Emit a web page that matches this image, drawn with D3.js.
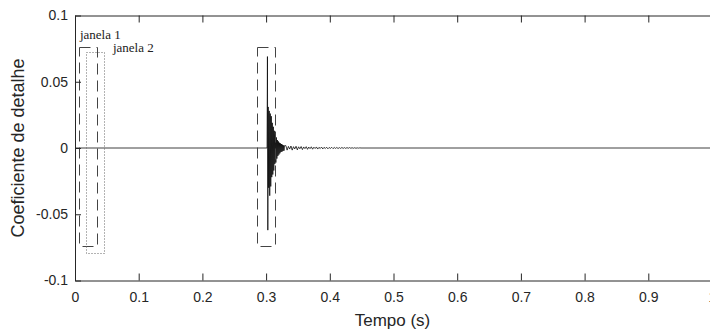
<!DOCTYPE html>
<html lang="en">
<head>
  <meta charset="UTF-8">
  <title>Coeficiente de detalhe</title>
  <script src="https://d3js.org/d3.v7.min.js"></script>
  <style>
      body { margin: 0; background: #fff; }
      .axis text { font-family: "Liberation Sans", Arial, sans-serif; font-size: 14px; fill: #262626; }
      .axis path, .axis line { stroke: #262626; }
      .title { font-family: "Liberation Sans", Arial, sans-serif; font-size: 17px; fill: #262626; }
      .note { font-family: "Liberation Serif", "Times New Roman", serif; font-size: 13px; fill: #222; }
  </style>
</head>
<body>
<svg width="710" height="331"></svg>
<script>
  // axis ticks
  const xTicks = [0, 0.1, 0.2, 0.3, 0.4, 0.5, 0.6, 0.7, 0.8, 0.9, 1];
  const yTicks = [-0.1, -0.05, 0, 0.05, 0.1];

  // signal: quiet part, then the fault spike, then a decaying burst and tail
  const leadT = [0, 0.3015];
  const leadV = [0, 0];
  const spikeT = [0.3021, 0.3027];
  const spikeV = [0.069, -0.062];

  const burstStart = 0.3033, burstDt = 0.0008;
  const burstV = [0.031, -0.030, 0.028, -0.036, 0.026, -0.029, 0.024,
                  -0.022, 0.019, -0.020, 0.016, -0.017,
                  0.013, -0.012, 0.010, -0.011, 0.008,
                  -0.008, 0.006, -0.006, 0.005, -0.005, 0.004, -0.004,
                  0.0035, -0.003, 0.003, -0.0028, 0.0025, -0.0022, 0.002, -0.002, 0.0018];

  const tailStart = 0.331, tailDt = 0.002;
  const tailV = [0.0018, -0.0016, 0.0012, -0.0008, 0.0015, -0.0016, 0.0010, -0.0007, 0.0013, -0.0014,
                 0.0009, -0.0006, 0.0011, -0.0012, 0.0008, -0.0005, 0.0010, -0.0010, 0.0007, -0.0005,
                 0.0009, -0.0009, 0.0006, -0.0004, 0.0008, -0.0008, 0.0005, -0.0004, 0.0007, -0.0007,
                 0.0005, -0.0004, 0.0006, -0.0006, 0.0004, -0.0003, 0.0005, -0.0005, 0.0004, -0.0003,
                 0.0004, -0.0004, 0.0003, -0.0003, 0.0004, -0.0003, 0.0003, -0.0003, 0.0003, -0.0002,
                 0.0003, -0.0002, 0.0002, -0.0002, 0.0002, -0.0002, 0.0001, -0.0001, 0.0001, 0];
  const endT = [1];
  const endV = [0];

  // analysis windows
  const winStart  = [0.0063, 0.0168, 0.285];
  const winEnd    = [0.035, 0.0444, 0.314];
  const winTop    = [0.0762, 0.0725, 0.0762];
  const winBottom = [-0.074, -0.0795, -0.074];
  const winDash   = ["dashed", "dotted", "dashed"];

  const noteText = ["janela 1", "janela 2"];
  const noteT = [0.0078, 0.0595];
  const noteV = [0.0823, 0.0728];

  const svg = d3.select("svg");
  const margin = {left: 75, top: 15.5, right: -2, bottom: 50.5};
  const W = 710, H = 331;

  const x = d3.scaleLinear().domain([0, 1]).range([margin.left, W - margin.right]);
  const y = d3.scaleLinear().domain([-0.1, 0.1]).range([H - margin.bottom, margin.top]);

  const signal = [];
  leadT.forEach((t, i) => signal.push([t, leadV[i]]));
  spikeT.forEach((t, i) => signal.push([t, spikeV[i]]));
  burstV.forEach((v, i) => signal.push([burstStart + i * burstDt, v]));
  tailV.forEach((v, i) => signal.push([tailStart + i * tailDt, v]));
  endT.forEach((t, i) => signal.push([t, endV[i]]));

  svg.append("path")
  .datum(signal)
  .attr("fill", "none")
  .attr("stroke", "#000")
  .attr("stroke-width", 0.75)
  .attr("d", d3.line().x(d => x(d[0])).y(d => y(d[1])));

  // window boxes
  svg.append("g")
  .selectAll("rect")
  .data(winStart)
  .enter().append("rect")
  .attr("x", (d, i) => Math.round(x(d)) + 0.5)
  .attr("y", (d, i) => Math.round(y(winTop[i])) + 0.5)
  .attr("width", (d, i) => Math.round(x(winEnd[i]) - x(d)))
  .attr("height", (d, i) => Math.round(y(winBottom[i]) - y(winTop[i])))
  .attr("fill", "none")
  .attr("stroke", (d, i) => winDash[i] === "dashed" ? "#444" : "#666")
  .attr("stroke-width", 1)
  .attr("stroke-dasharray", (d, i) => winDash[i] === "dashed" ? "11,6" : "1,2");

  svg.append("g")
  .selectAll("text")
  .data(noteText)
  .enter().append("text")
  .attr("class", "note")
  .attr("x", (d, i) => x(noteT[i]))
  .attr("y", (d, i) => y(noteV[i]))
  .text(d => d);

  const fmt = d => String(+d.toFixed(2));

  svg.append("g")
  .attr("class", "axis")
  .attr("transform", `translate(0,${H - margin.bottom})`)
  .call(d3.axisBottom(x).tickValues(xTicks).tickFormat(fmt).tickSizeInner(-7).tickSizeOuter(0).tickPadding(12));

  svg.append("g")
  .attr("class", "axis")
  .attr("transform", `translate(0,${margin.top})`)
  .call(d3.axisTop(x).tickValues(xTicks).tickFormat("").tickSizeInner(-7).tickSizeOuter(0));

  svg.append("g")
  .attr("class", "axis")
  .attr("transform", `translate(${margin.left},0)`)
  .call(d3.axisLeft(y).tickValues(yTicks).tickFormat(fmt).tickSizeInner(-6).tickSizeOuter(0).tickPadding(7));

  svg.append("text")
  .attr("class", "title")
  .attr("text-anchor", "middle")
  .attr("x", x(0.5) - 1)
  .attr("y", 326)
  .text("Tempo (s)");

  svg.append("text")
  .attr("class", "title")
  .attr("text-anchor", "middle")
  .style("font-size", "18px")
  .attr("transform", `translate(24,${y(0)}) rotate(-90)`)
  .text("Coeficiente de detalhe");
</script>
</body>
</html>
